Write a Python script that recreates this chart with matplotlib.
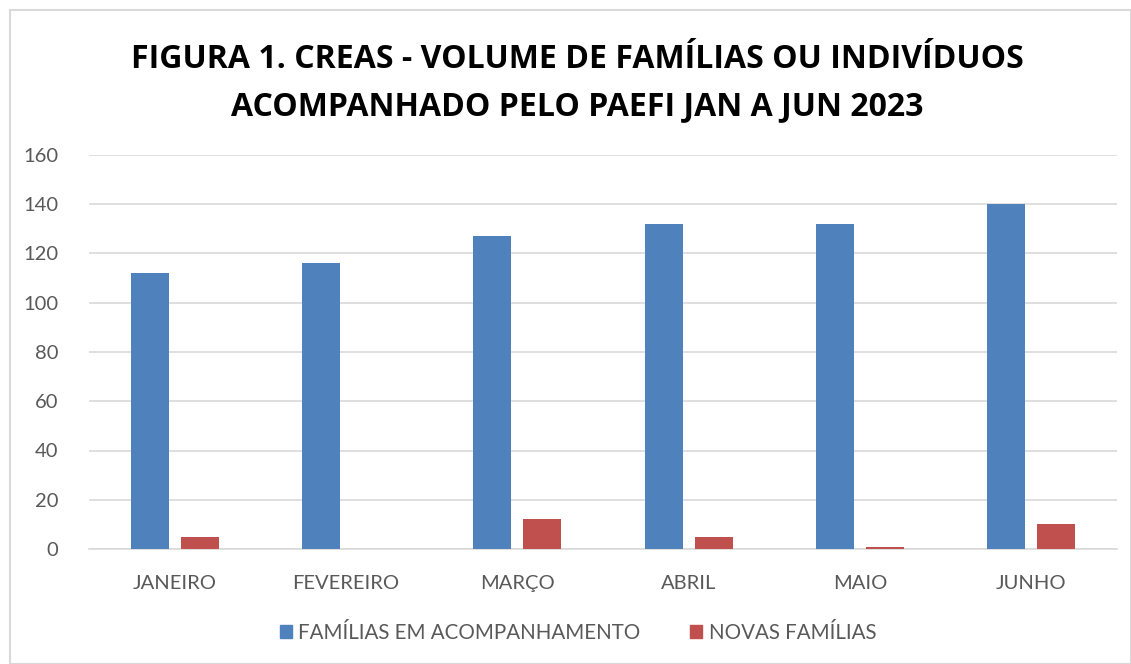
import matplotlib
matplotlib.use("Agg")
import matplotlib.pyplot as plt
from matplotlib.patches import Rectangle, Patch
import numpy as np

categories = ["JANEIRO", "FEVEREIRO", "MARÇO", "ABRIL", "MAIO", "JUNHO"]
acompanhamento = [112, 116, 127, 132, 132, 140]
novas = [5, 0, 12, 5, 1, 10]
series_names = ["FAMÍLIAS EM ACOMPANHAMENTO", "NOVAS FAMÍLIAS"]
yticks = [0, 20, 40, 60, 80, 100, 120, 140, 160]
title = "FIGURA 1. CREAS - VOLUME DE FAMÍLIAS OU INDIVÍDUOS\nACOMPANHADO PELO PAEFI JAN A JUN 2023"

W, H = 1131, 664
fig = plt.figure(figsize=(W / 100, H / 100), dpi=100)
fig.patch.set_facecolor("white")
fig.patches.append(Rectangle((10 / W, 0), (W - 10) / W, (H - 10) / H, transform=fig.transFigure,
                             fill=False, edgecolor="#d9d9d9", linewidth=1.5))

ax = fig.add_axes([89 / W, 1 - 549 / H, (1117 - 89) / W, (549 - 155) / H])
x = np.arange(len(categories))
bw = 0.222
off = 0.146
ax.bar(x - off, acompanhamento, bw, color="#4F81BD", zorder=3, label=series_names[0])
ax.bar(x + off, novas, bw, color="#C0504D", zorder=3, label=series_names[1])

ax.set_xlim(-0.5, len(categories) - 0.5)
ax.set_ylim(0, 160)
ax.set_yticks(yticks)
ax.yaxis.grid(True, color="#d9d9d9", linewidth=1.2, zorder=0)
ax.set_axisbelow(True)
for s in ["top", "right", "left"]:
    ax.spines[s].set_visible(False)
ax.spines["bottom"].set_color("#d9d9d9")
ax.spines["bottom"].set_linewidth(1.2)
ax.tick_params(axis="both", length=0, labelsize=14.5, colors="#595959", labelcolor="#595959")
ax.tick_params(axis="y", pad=22)
ax.tick_params(axis="x", pad=19)
ax.set_xticks(x)
ax.set_xticklabels(categories, fontfamily="Lato")
for lab in ax.get_yticklabels():
    lab.set_fontfamily("Lato")

fig.text(577 / W, 1 - 83 / H, title, ha="center", va="center", fontsize=23.0,
         fontweight="bold", fontfamily="Open Sans", color="black", linespacing=1.6)

handles = [Patch(color="#4F81BD"), Patch(color="#C0504D")]
fig.legend(handles, series_names, loc="center", bbox_to_anchor=(578 / W, 1 - 633 / H), ncol=2,
           frameon=False, prop={"family": "Lato", "size": 14.8}, labelcolor="#595959",
           handlelength=0.6, handleheight=0.6, handletextpad=0.3, columnspacing=2.4)

fig.savefig("out.png", dpi=100)
